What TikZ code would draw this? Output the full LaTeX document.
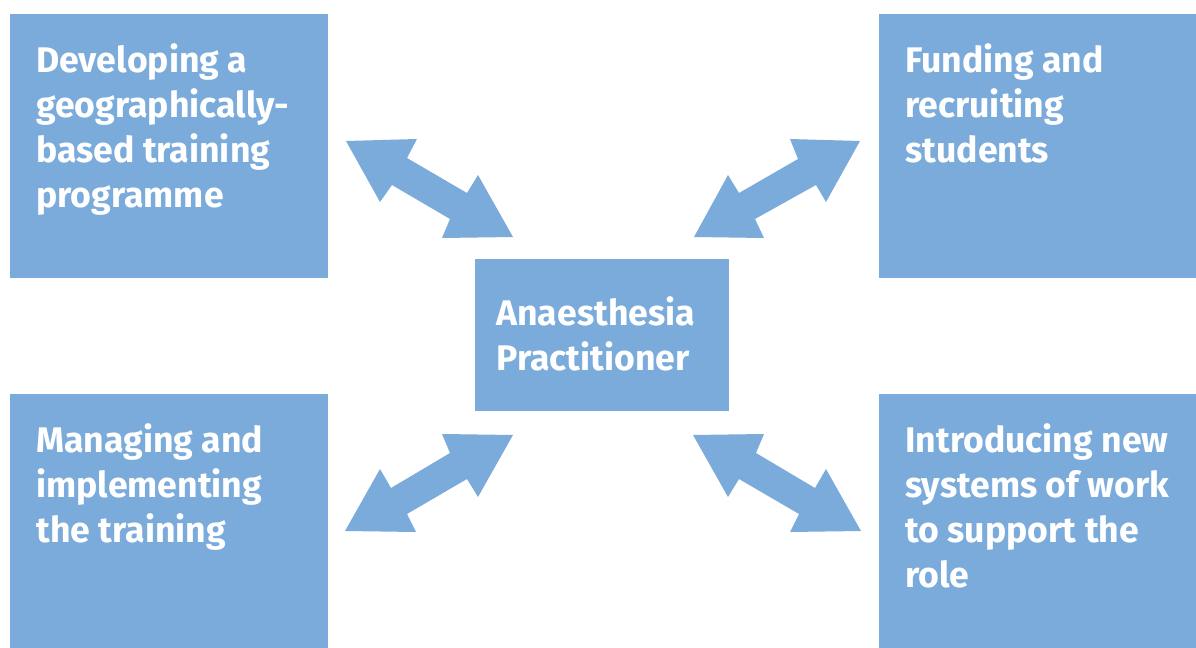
\documentclass[tikz,border=0pt]{standalone}
\usepackage{fontspec}
\setmainfont{Fira Sans}
\begin{document}
\definecolor{boxblue}{RGB}{123,171,219}
\begin{tikzpicture}[x=0.5pt,y=-0.5pt,
  panel/.style={fill=boxblue,draw=none,inner sep=0pt,anchor=north west},
  label/.style={text=white,inner sep=0pt,anchor=base west,align=left,
    font=\fontsize{17.8pt}{22.5pt}\selectfont\bfseries},
  dblarrow/.style={fill=boxblue,draw=none}]
\useasboundingbox (0,0) rectangle (1196,648);

% corner panels and the central one
\node[panel,minimum width=159pt,minimum height=132pt] (tl) at (10,14) {};
\node[panel,minimum width=158.5pt,minimum height=132pt] (tr) at (879,14) {};
\node[panel,minimum width=159pt,minimum height=127pt] (bl) at (10,394) {};
\node[panel,minimum width=158.5pt,minimum height=127pt] (br) at (879,394) {};
\node[panel,minimum width=127pt,minimum height=76pt] (ap) at (475,259) {};

% panel texts (anchored at the baseline of their last line)
\node[label] (tltext) at (36,207) {Developing a\\geographically-\\based training\\programme};
\node[label] (trtext) at (905,162) {Funding and\\recruiting\\students};
\node[label] (bltext) at (36,542) {Managing and\\implementing\\the training};
\node[label] (brtext) at (905,587) {Introducing new\\systems of work\\to support the\\role};
\node[label] (aptext) at (496,370) {Anaesthesia\\Practitioner};

% double-headed block arrows between the centre and each corner
\fill[dblarrow] (346,141) -- (417,139) -- (407,158) -- (467,193) -- (478,175)
  -- (513,237) -- (442,238) -- (450,219) -- (392,185) -- (380,202) -- cycle;
\fill[dblarrow] (860,141) -- (826,202) -- (816,185) -- (755,219) -- (764,238)
  -- (694,237) -- (728,175) -- (739,193) -- (798,159) -- (790,139) -- cycle;
\fill[dblarrow] (513,435) -- (478,497) -- (467,479) -- (407,514) -- (416,532)
  -- (345,531) -- (380,469) -- (391,488) -- (450,453) -- (442,434) -- cycle;
\fill[dblarrow] (693,435) -- (728,497) -- (739,479) -- (799,514) -- (790,532)
  -- (861,531) -- (826,469) -- (815,488) -- (756,453) -- (764,434) -- cycle;
\end{tikzpicture}
\end{document}
